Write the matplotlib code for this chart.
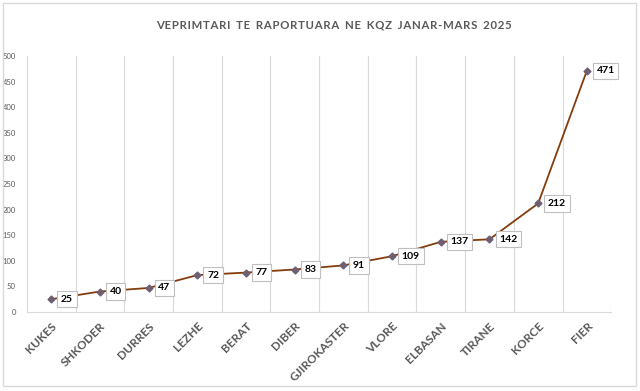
import matplotlib.pyplot as plt
from matplotlib.patches import Rectangle

# data
districts = ["KUKES", "SHKODER", "DURRES", "LEZHE", "BERAT", "DIBER",
             "GJIROKASTER", "VLORE", "ELBASAN", "TIRANE", "KORCE", "FIER"]
counts = [25, 40, 47, 72, 77, 83, 91, 109, 137, 142, 212, 471]
title = "VEPRIMTARI TE RAPORTUARA NE KQZ JANAR-MARS 2025"

plt.rcParams['font.family'] = ['Lato', 'DejaVu Sans']

fig = plt.figure(figsize=(6.4, 3.91), dpi=100)
ax = fig.add_axes([0.042, 0.202, 0.913, 0.655])

x = list(range(len(districts)))
ax.plot(x, counts, color='#843C0C', lw=1.3, zorder=2)
ax.plot(x, counts, ls='none', marker='D', ms=3.5, color='#6E5F73', zorder=3)

for xi, v in zip(x, counts):
    ax.annotate(str(v), (xi, v), xytext=(7, 0), textcoords='offset points',
                ha='left', va='center', fontsize=7.5, fontweight='bold',
                color='black',
                bbox=dict(boxstyle='square,pad=0.35', fc='white', ec='#BFBFBF', lw=0.8),
                zorder=4)

ax.set_xlim(-0.5, len(districts) - 0.5)
ax.set_ylim(0, 500)
ax.set_yticks(range(0, 501, 50))
ax.tick_params(axis='y', length=0, labelsize=5.5, labelcolor='#595959', pad=8)

ax.set_xticks(x)
ax.set_xticklabels(districts, rotation=45, ha='right', rotation_mode='anchor',
                   fontsize=8.5, fontweight='bold', color='#595959')
ax.tick_params(axis='x', length=0, pad=6)
ax.set_xticks([i - 0.5 for i in range(len(districts) + 1)], minor=True)
ax.tick_params(axis='x', which='minor', length=0)
ax.grid(axis='x', which='minor', color='#D9D9D9', lw=0.8)
ax.grid(axis='x', which='major', visible=False)

for side in ['top', 'right', 'left']:
    ax.spines[side].set_visible(False)
ax.spines['bottom'].set_color('#D9D9D9')

# letter-spaced title
spaced = "\u200a".join(title).replace("\u200a \u200a", "\u2002")
fig.text(0.522, 0.935, spaced, ha='center', va='center',
         fontsize=8.2, fontweight='bold', color='#595959')

fig.patches.append(Rectangle((0.004, 0.012), 0.99, 0.98, transform=fig.transFigure,
                             fill=False, ec='#D9D9D9', lw=1))

fig.savefig("out.png", dpi=100)
